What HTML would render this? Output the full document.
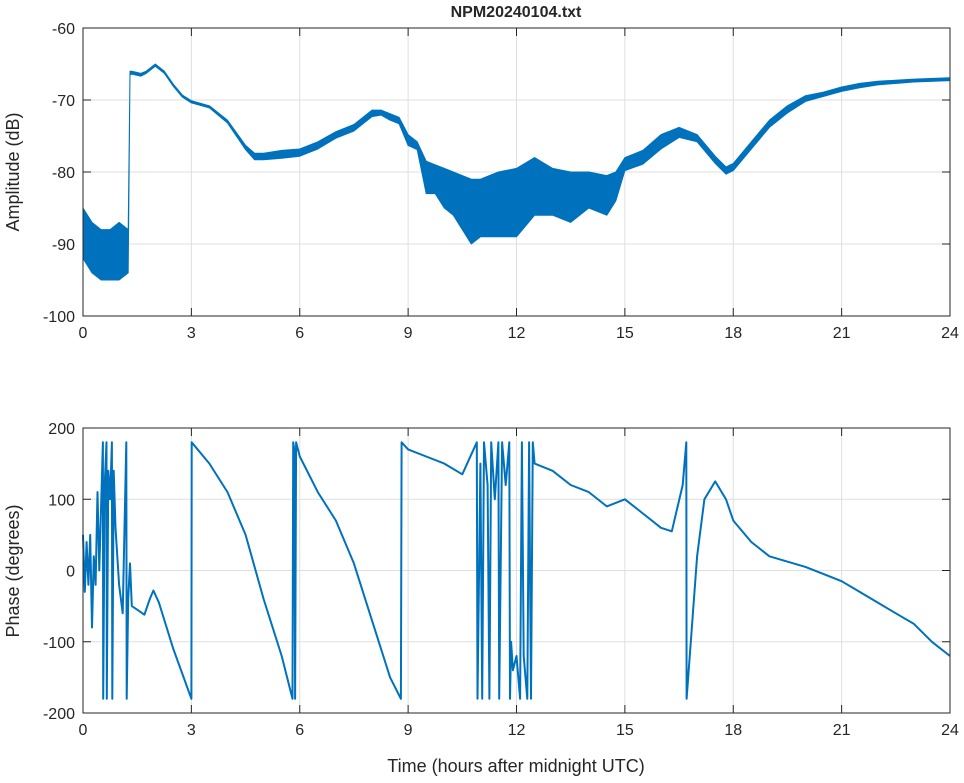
<!DOCTYPE html>
<html><head><meta charset="utf-8"><style>
body{margin:0;background:#fff}
svg text{font-family:"Liberation Sans",sans-serif;fill:#262626}
</style></head><body>
<svg width="964" height="778" xmlns="http://www.w3.org/2000/svg">
<g id="topPanel"></g>
<g id="botPanel"></g>
<text x="516" y="17" text-anchor="middle" font-weight="bold" font-size="16">NPM20240104.txt</text>
<text transform="translate(19,172) rotate(-90)" text-anchor="middle" font-size="18">Amplitude (dB)</text>
<text transform="translate(19,571) rotate(-90)" text-anchor="middle" font-size="18">Phase (degrees)</text>
<text x="516" y="772" text-anchor="middle" font-size="18">Time (hours after midnight UTC)</text>
</svg>
<script>
const xTicks=[0,3,6,9,12,15,18,21,24];
const ampTicks=[-60,-70,-80,-90,-100];
const phTicks=[200,100,0,-100,-200];
const ampT=[0,0.25,0.5,0.75,1.0,1.25,1.3,1.35,1.6,1.75,2.0,2.25,2.5,2.75,3,3.5,4,4.5,4.75,5,5.5,6,6.5,7,7.5,8,8.25,8.5,8.75,9,9.25,9.5,9.75,10,10.25,10.5,10.75,11,11.5,12,12.5,13,13.5,14,14.5,14.75,15,15.5,16,16.5,17,17.5,17.8,18,18.5,19,19.5,20,20.5,21,21.5,22,23,24];
const ampHi=[-85,-87,-88,-88,-87,-88,-66,-66,-66.3,-66,-65,-66,-67.8,-69.3,-70.1,-70.8,-72.8,-76.3,-77.4,-77.4,-77,-76.8,-75.8,-74.4,-73.4,-71.4,-71.4,-71.9,-72.4,-74.8,-75.8,-78.5,-79,-79.5,-80,-80.5,-81,-81,-80,-79.5,-78,-79.5,-80,-80,-80.5,-80,-78,-77,-74.8,-73.8,-74.8,-77.8,-79.3,-78.8,-75.8,-72.8,-70.8,-69.4,-68.9,-68.2,-67.7,-67.4,-67.1,-66.9];
const ampLo=[-92,-94,-95,-95,-95,-94,-66.5,-66.4,-66.7,-66.3,-65.3,-66.3,-68.1,-69.6,-70.4,-71.1,-73.2,-76.9,-78.3,-78.3,-78.1,-77.8,-76.8,-75.3,-74.3,-72.3,-72.1,-72.8,-73.3,-76.3,-76.9,-83,-83,-85,-86,-88,-90,-89,-89,-89,-86,-86,-87,-85,-86,-84,-79.8,-78.9,-76.8,-75.2,-75.8,-78.8,-80.3,-79.8,-76.8,-73.8,-71.8,-70.2,-69.5,-68.8,-68.3,-67.9,-67.5,-67.3];
const phT=[0,0.05,0.1,0.15,0.2,0.25,0.3,0.35,0.4,0.45,0.5,0.55,0.56,0.6,0.65,0.66,0.7,0.75,0.8,0.81,0.85,0.9,1.0,1.1,1.2,1.21,1.25,1.3,1.35,1.5,1.7,1.85,1.95,2.1,2.5,3.0,3.01,3.5,4.0,4.5,5.0,5.5,5.8,5.82,5.85,5.87,5.9,6.0,6.5,7.0,7.5,8.0,8.5,8.8,8.82,9,9.5,10,10.5,10.9,10.92,11.0,11.05,11.1,11.2,11.25,11.3,11.4,11.5,11.52,11.6,11.7,11.8,11.82,11.85,11.9,12.0,12.1,12.15,12.2,12.3,12.35,12.4,12.45,12.5,13,13.5,14,14.5,15,15.5,16,16.3,16.6,16.7,16.71,17,17.2,17.5,17.8,18,18.5,19,20,20.5,21,21.5,22,22.5,23,23.5,24];
const phV=[50,-30,40,-20,50,-80,20,-20,110,0,90,180,-180,120,180,-180,140,100,180,-180,140,60,-20,-60,180,-180,-40,10,-50,-55,-62,-40,-28,-45,-110,-180,180,150,110,50,-40,-120,-180,180,170,-180,180,160,110,70,10,-70,-150,-180,180,170,160,150,135,180,-180,150,-180,180,120,-180,180,100,180,-180,180,120,180,-180,-100,-140,-120,-180,180,-120,-180,180,-180,180,150,140,120,110,90,100,80,60,55,120,180,-180,20,100,125,100,70,40,20,5,-5,-15,-30,-45,-60,-75,-100,-120];
const NS="http://www.w3.org/2000/svg";
const X0=83,X1=950;
const xs=t=>X0+(t-0)/(24-0)*(X1-X0);
function mk(tag,attrs,parent){const e=document.createElementNS(NS,tag);for(const k in attrs)e.setAttribute(k,attrs[k]);parent.appendChild(e);return e;}
function panel(g,Y0,Y1,vmax,vmin,ticks,prefix){
  const ys=v=>Y0+(vmax-v)/(vmax-vmin)*(Y1-Y0);
  const bg=mk('rect',{x:X0,y:Y0,width:X1-X0,height:Y1-Y0,fill:'#fff'},g);
  
  
  xTicks.forEach(t=>{
    const l=mk('line',{x1:xs(t),x2:xs(t),y1:Y0,y2:Y1,stroke:'#dfdfdf','stroke-width':1},g);
    
    
    mk('line',{x1:xs(t),x2:xs(t),y1:Y1,y2:Y1-8,stroke:'#262626'},g);
    mk('line',{x1:xs(t),x2:xs(t),y1:Y0,y2:Y0+8,stroke:'#262626'},g);
    const tx=mk('text',{x:xs(t),y:Y1+22,'text-anchor':'middle','font-size':16},g);
    tx.textContent=t;
    
    
  });
  ticks.forEach(v=>{
    const l=mk('line',{x1:X0,x2:X1,y1:ys(v),y2:ys(v),stroke:'#dfdfdf','stroke-width':1},g);
    
    
    mk('line',{x1:X0,x2:X0+8,y1:ys(v),y2:ys(v),stroke:'#262626'},g);
    mk('line',{x1:X1,x2:X1-8,y1:ys(v),y2:ys(v),stroke:'#262626'},g);
    const tx=mk('text',{x:X0-8,y:ys(v)+6,'text-anchor':'end','font-size':16},g);
    tx.textContent=v;
    
    
  });
  return ys;
}
const gTop=document.getElementById('topPanel'),gBot=document.getElementById('botPanel');
const ya=panel(gTop,28,316,-60,-100,ampTicks,'amplitude');
let d='M'+ampT.map((t,i)=>xs(t).toFixed(1)+','+ya(ampHi[i]).toFixed(1)).join('L');
for(let i=ampT.length-1;i>=0;i--)d+='L'+xs(ampT[i]).toFixed(1)+','+ya(ampLo[i]).toFixed(1);
const band=mk('path',{d:d+'Z',fill:'#0072bd',stroke:'#0072bd','stroke-width':1,'stroke-linejoin':'round'},gTop);


mk('rect',{x:X0,y:28,width:X1-X0,height:288,fill:'none',stroke:'#262626','stroke-width':1},gTop);
const yp=panel(gBot,428,713,200,-200,phTicks,'phase');
const pl=mk('polyline',{points:phT.map((t,i)=>xs(t).toFixed(1)+','+yp(phV[i]).toFixed(1)).join(' '),fill:'none',stroke:'#0072bd','stroke-width':2,'stroke-linejoin':'round'},gBot);


mk('rect',{x:X0,y:428,width:X1-X0,height:285,fill:'none',stroke:'#262626','stroke-width':1},gBot);
</script>
</body></html>
